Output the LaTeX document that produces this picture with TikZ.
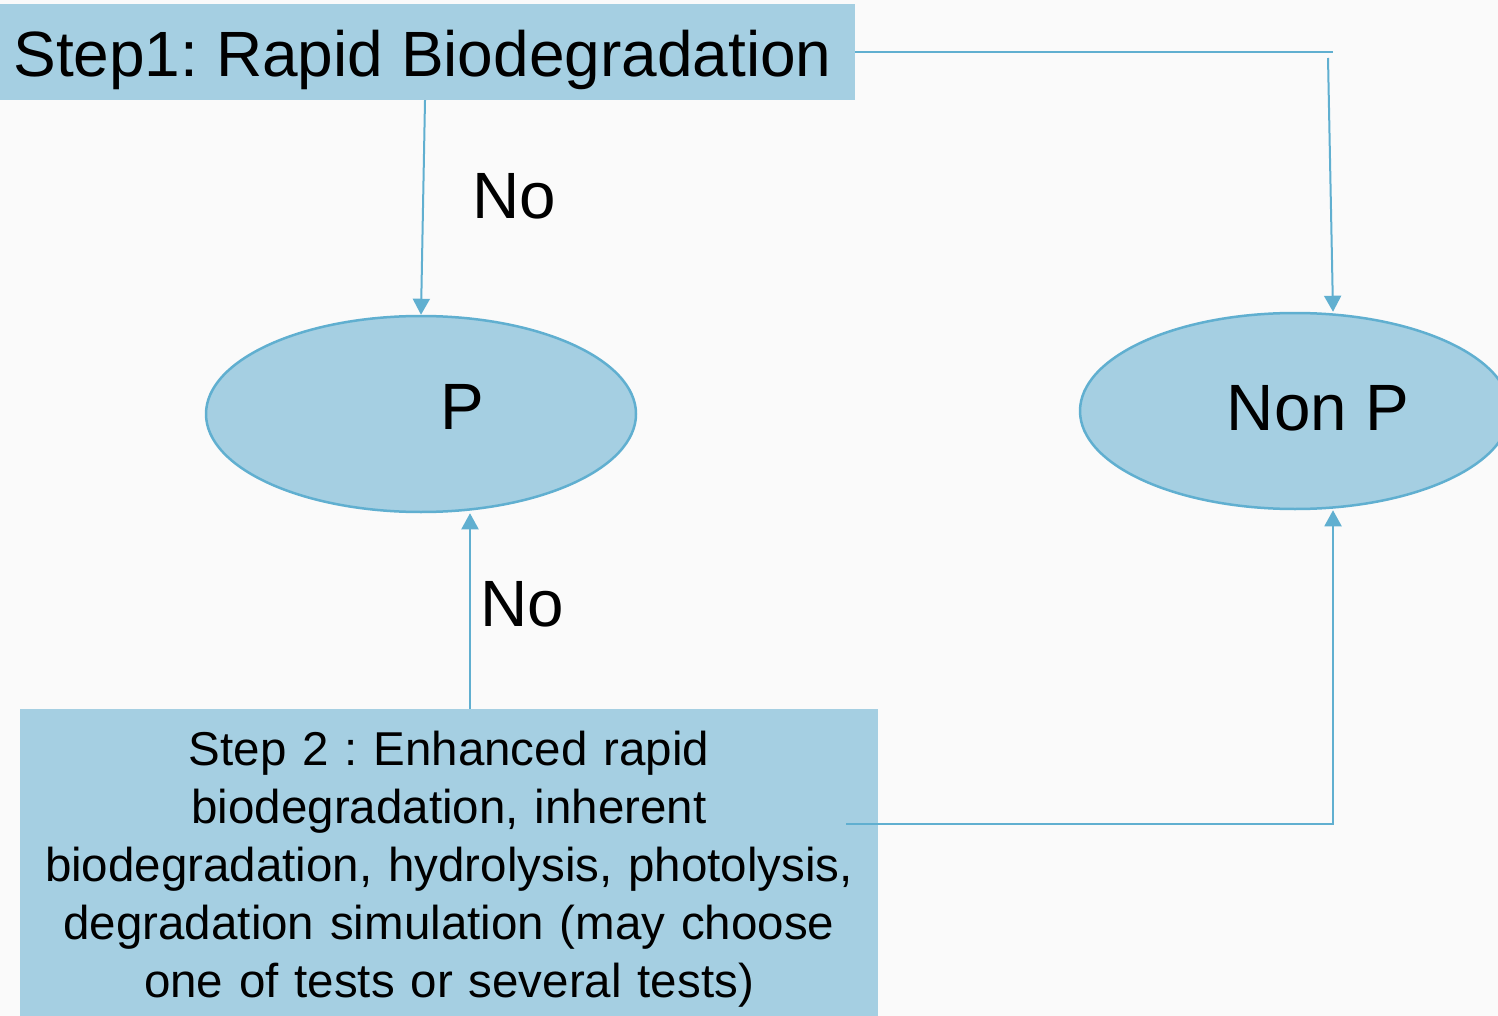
\documentclass[tikz,border=0pt]{standalone}
\usepackage{fontspec}
\setmainfont{Liberation Sans}
\usetikzlibrary{arrows.meta,shapes.geometric}
\frenchspacing

\definecolor{boxfill}{RGB}{165,207,226}
\definecolor{edgeblue}{RGB}{96,175,208}
\definecolor{paper}{RGB}{250,250,250}

\tikzset{
  stepbox/.style={rectangle, fill=boxfill, draw=none, inner sep=0pt},
  outcome/.style={ellipse, fill=boxfill, draw=edgeblue, line width=2.5pt,
                  minimum width=430pt, minimum height=196pt, inner sep=0pt},
  bigtext/.style={font=\fontsize{65.5}{70}\selectfont, inner sep=0pt},
  link/.style={draw=edgeblue, line width=2pt},
  arrowlink/.style={link, -{Triangle[length=16pt,width=17pt]}},
}

\begin{document}
\begin{tikzpicture}[x=1pt,y=-1pt]
  \useasboundingbox (0,0) rectangle (1498,1016);
  \clip (0,0) rectangle (1498,1016);
  \fill[paper] (0,0) rectangle (1498,1016);

  % decision boxes
  \node[stepbox, minimum width=865pt, minimum height=96pt,
        text height=50pt, text depth=0pt,
        font=\fontsize{64}{70}\selectfont] (step1) at (422.5,52)
        {Step1: Rapid Biodegradation};
  \node[stepbox, minimum width=858pt, minimum height=320pt,
        text width=850pt, align=center,
        font=\fontsize{47.5}{58}\selectfont] (step2) at (449,869)
        {Step 2 : Enhanced rapid\\ biodegradation, inherent\\
         biodegradation, hydrolysis, photolysis,\\
         degradation simulation (may choose\\ one of tests or several tests)};

  % outcomes
  \node[outcome] (p) at (421,414) {};
  \node[bigtext] (ptext) at (462,407) {P};
  \node[outcome] (nonp) at (1295,411) {};
  \node[bigtext] (nonptext) at (1318,408) {Non P};

  % connector turning points
  \coordinate (hturn) at (1333,52);
  \coordinate (vstart) at (1328,58);
  \coordinate (s2out) at (846,824);

  % connectors
  \draw[arrowlink] ([xshift=2.5pt]step1.south) -- (p.north);
  \draw[link] (step1.east |- hturn) -- (hturn);
  \draw[arrowlink] (vstart) -- (nonp.north -| hturn);
  \draw[arrowlink] ([xshift=21pt]step2.north) -- ([xshift=21pt]step2.north |- p.south);
  \draw[arrowlink] (s2out) -| (nonp.south -| hturn);

  % labels
  \node[bigtext] (no1) at (514,196) {No};
  \node[bigtext] (no2) at (522,604) {No};
\end{tikzpicture}
\end{document}
